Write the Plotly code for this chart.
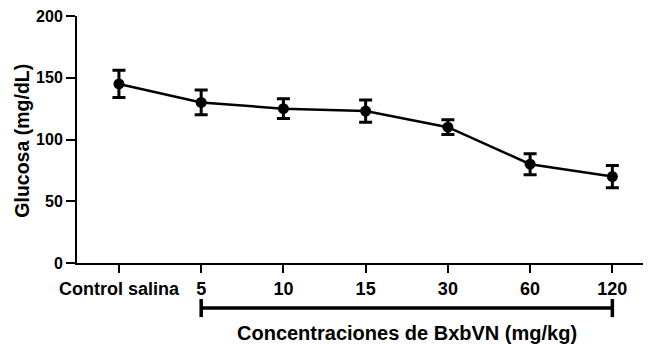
import plotly.graph_objects as go

categories = ["Control salina", "5", "10", "15", "30", "60", "120"]
glucosa = [145, 130, 125, 123, 110, 80, 70]
error = [11, 10, 8, 9, 6, 8.5, 9]
y_ticks = [0, 50, 100, 150, 200]

xpos = list(range(len(categories)))
FONT = "Liberation Sans, Arial, sans-serif"

fig = go.Figure()
fig.add_trace(go.Scatter(
    x=xpos, y=glucosa,
    mode="lines+markers",
    line=dict(color="black", width=2.5),
    marker=dict(color="black", size=11, symbol="circle"),
    error_y=dict(type="data", array=error, visible=True, color="black",
                 thickness=3, width=6.5),
    showlegend=False,
    cliponaxis=False,
))

# the page body has an 8px default margin, so the figure is sized to fit the window
fig.update_layout(
    width=643, height=337,
    margin=dict(l=69, r=0, t=8, b=82),
    paper_bgcolor="white", plot_bgcolor="white",
    font=dict(family=FONT, color="black"),
    xaxis=dict(
        range=[-0.51, 6.47],
        tickvals=xpos, ticktext=["<b>%s</b>" % c for c in categories],
        tickfont=dict(size=18, family=FONT, color="black"),
        showline=True, linecolor="black", linewidth=2,
        ticks="outside", ticklen=8, tickwidth=2, tickcolor="black",
        showgrid=False, zeroline=False,
    ),
    yaxis=dict(
        range=[0, 200],
        tickvals=y_ticks, ticktext=["<b>%d</b>" % v for v in y_ticks],
        tickfont=dict(size=16, family=FONT, color="black"),
        ticklabeloverflow="allow",
        showline=True, linecolor="black", linewidth=2,
        ticks="outside", ticklen=9, tickwidth=2, tickcolor="black",
        showgrid=False, zeroline=False,
    ),
)

# bracket under the concentration groups
fig.add_shape(type="line", xref="x", yref="paper", x0=1, x1=6, y0=-0.182, y1=-0.182,
              line=dict(color="black", width=3.5))
for xv in (1, 6):
    fig.add_shape(type="line", xref="x", yref="paper", x0=xv, x1=xv, y0=-0.146, y1=-0.219,
                  line=dict(color="black", width=3.5))

fig.add_annotation(x=3.5, xref="x", y=-0.283, yref="paper", yanchor="middle",
                   text="<b>Concentraciones de BxbVN (mg/kg)</b>", showarrow=False,
                   font=dict(size=20, family=FONT, color="black"))
fig.add_annotation(x=-0.096, xref="paper", y=0.495, yref="paper", xanchor="center", yanchor="middle",
                   text="<b>Glucosa (mg/dL)</b>", showarrow=False, textangle=-90,
                   font=dict(size=19.5, family=FONT, color="black"))

fig.write_html("out.html")
